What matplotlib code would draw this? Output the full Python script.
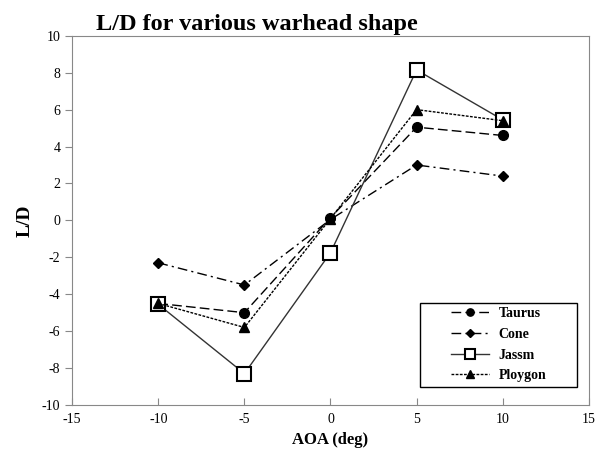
import matplotlib
matplotlib.use("Agg")
import matplotlib.pyplot as plt
from matplotlib.patches import Rectangle

aoa = [-10, -5, 0, 5, 10]
taurus = [-4.5, -5.0, 0.15, 5.05, 4.6]
cone = [-2.3, -3.5, 0.05, 3.0, 2.4]
jassm = [-4.55, -8.3, -1.75, 8.15, 5.45]
ploygon = [-4.5, -5.8, 0.1, 6.0, 5.4]

plt.rcParams['font.family'] = ['Liberation Serif', 'DejaVu Serif']
plt.rcParams['axes.unicode_minus'] = False

fig = plt.figure(figsize=(6.02, 4.53), dpi=100)
ax = fig.add_axes([0.12, 0.106, 0.858, 0.815])

ax.plot(aoa, taurus, color='black', lw=1, dashes=(7, 3), marker='o', ms=7,
        label='Taurus')
ax.plot(aoa, cone, color='black', lw=1, dashes=(7, 3, 1.5, 3), marker='D', ms=5,
        label='Cone')
ax.plot(aoa, jassm, color='#333333', lw=1, marker='s', ms=9.5, mfc='white',
        mec='black', mew=1.5, label='Jassm')
ax.plot(aoa, ploygon, color='black', lw=1, dashes=(2, 1), marker='^', ms=7,
        label='Ploygon')

ax.set_xlim(-15, 15)
ax.set_ylim(-10, 10)
ax.set_xticks(range(-15, 16, 5))
ax.set_yticks(range(-10, 11, 2))
for s in ax.spines.values():
    s.set_color('#888888')
ax.tick_params(axis='x', direction='in', length=5, color='#888888',
               labelsize=10, pad=6)
ax.tick_params(axis='y', direction='out', length=5, color='#888888',
               labelsize=10)

# title is centred on the whole chart area, not the axes
fig.text(0.427, 0.946, 'L/D for various warhead shape', fontsize=17.5,
         fontweight='bold', ha='center', va='center')
ax.set_xlabel('AOA (deg)', fontsize=12, fontweight='bold')
ax.set_ylabel('L/D', fontsize=14, fontweight='bold', labelpad=6)

leg = ax.legend(loc='center', bbox_to_anchor=(0.826, 0.163), frameon=False,
                prop={'weight': 'bold', 'size': 10}, handlelength=2.7,
                handletextpad=0.7, borderpad=0, labelspacing=0.55,
                markerscale=0.75)
ax.add_patch(Rectangle((0.673, 0.049), 0.304, 0.227, transform=ax.transAxes,
                       fill=False, edgecolor='black', lw=1, zorder=5))

fig.savefig('out.png', dpi=100)
